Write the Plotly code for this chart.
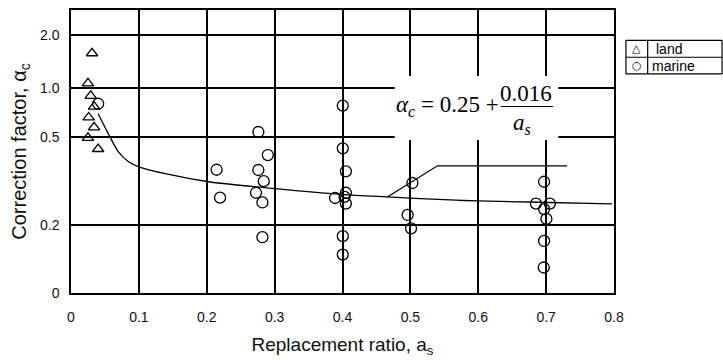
import numpy as np
import plotly.graph_objects as go

# ---------------- data ----------------
land_as = [0.031, 0.025, 0.029, 0.034, 0.026, 0.034, 0.025, 0.040]
land_alpha = [1.57, 1.06, 0.895, 0.768, 0.66, 0.574, 0.497, 0.442]

marine_as = [0.040,
             0.2145, 0.2196,
             0.276, 0.290, 0.276, 0.284, 0.2725, 0.282, 0.282,
             0.4004, 0.4004, 0.405, 0.405, 0.403, 0.389, 0.405, 0.4004, 0.4004,
             0.503, 0.496, 0.501,
             0.697, 0.685, 0.7055, 0.697, 0.7004, 0.697, 0.6965]
marine_alpha = [0.80,
                0.356, 0.266,
                0.538, 0.415, 0.355, 0.316, 0.280, 0.253, 0.164,
                0.779, 0.445, 0.350, 0.280, 0.268, 0.265, 0.250, 0.167, 0.113,
                0.310, 0.222, 0.190,
                0.314, 0.250, 0.250, 0.236, 0.213, 0.153, 0.075]

fit_as = [0.040, 0.0574, 0.0696, 0.0843, 0.099, 0.146, 0.2025, 0.301, 0.3985,
          0.466, 0.567, 0.600, 0.779, 0.797]
fit_alpha = [0.695, 0.502, 0.430, 0.388, 0.368, 0.338, 0.314, 0.292, 0.275,
             0.268, 0.259, 0.257, 0.250, 0.249]

leader_as = [0.466, 0.540, 0.731]
leader_alpha = [0.268, 0.371, 0.371]

x_ticks = [0, 0.1, 0.2, 0.3, 0.4, 0.5, 0.6, 0.7, 0.8]
y_tick_vals = [0, 0.2, 0.5, 1.0, 2.0]
y_tick_text = ["0", "0.2", "0.5", "1.0", "2.0"]

# ---------------- axis scale of the original (non-uniform) ----------------
Y_SCALE_VAL = [0.2, 0.5, 1.0, 2.0, 2.76]
Y_SCALE_POS = [69.0, 158.0, 208.0, 262.0, 287.0]


def ypos(a):
    a = np.asarray(a, dtype=float)
    lo = a < 0.2
    out = np.interp(np.log10(np.maximum(a, 1e-9)), np.log10(Y_SCALE_VAL), Y_SCALE_POS)
    out = np.where(lo, a / 0.2 * Y_SCALE_POS[0], out)
    return out


BLACK = "#000000"
SANS = "Liberation Sans, Arial, sans-serif"
SERIF = "Liberation Serif, Times New Roman, serif"

fig = go.Figure()

fig.add_trace(go.Scatter(x=fit_as, y=ypos(fit_alpha), mode="lines",
                         line=dict(color=BLACK, width=1.3, shape="spline", smoothing=0.8),
                         hoverinfo="skip", showlegend=False))
fig.add_trace(go.Scatter(x=leader_as, y=ypos(leader_alpha), mode="lines",
                         line=dict(color=BLACK, width=1.3),
                         hoverinfo="skip", showlegend=False))
fig.add_trace(go.Scatter(x=land_as, y=ypos(land_alpha), mode="markers", name="land",
                         marker=dict(symbol="triangle-up-open", size=10,
                                     color=BLACK, line=dict(width=1.3, color=BLACK)),
                         showlegend=False))
fig.add_trace(go.Scatter(x=marine_as, y=ypos(marine_alpha), mode="markers", name="marine",
                         marker=dict(symbol="circle-open", size=11,
                                     color=BLACK, line=dict(width=1.3, color=BLACK)),
                         showlegend=False))

# white box behind the equation (interrupts the grid as in the original)
fig.add_shape(type="rect", xref="x", yref="y", layer="above",
              x0=0.477, x1=0.718, y0=float(ypos(0.485)), y1=float(ypos(1.167)),
              fillcolor="white", line=dict(width=0))

eq_font = dict(family=SERIF, size=23, color=BLACK)
fig.add_annotation(x=0.634, y=float(ypos(0.78)), xref="x", yref="y",
                   text="<i>α<sub>c</sub></i> = 0.25 +", showarrow=False,
                   font=eq_font, xanchor="right", yanchor="middle")
fig.add_annotation(x=0.671, y=float(ypos(0.93)), xref="x", yref="y",
                   text="0.016", showarrow=False, font=eq_font,
                   xanchor="center", yanchor="middle")
fig.add_annotation(x=0.664, y=float(ypos(0.60)), xref="x", yref="y",
                   text="<i>a<sub>s</sub></i>", showarrow=False, font=eq_font,
                   xanchor="center", yanchor="middle")
fig.add_shape(type="line", xref="x", yref="y", layer="above",
              x0=0.633, x1=0.710, y0=float(ypos(0.77)), y1=float(ypos(0.77)),
              line=dict(color=BLACK, width=1))

# table-style legend
L0, L1, LD = 1.022, 1.199, 1.062
T0, TM, T1 = 0.774, 0.833, 0.893
for y in (T0, TM, T1):
    fig.add_shape(type="line", xref="paper", yref="paper", x0=L0, x1=L1, y0=y, y1=y,
                  line=dict(color=BLACK, width=1.2))
for x in (L0, LD, L1):
    fig.add_shape(type="line", xref="paper", yref="paper", x0=x, x1=x, y0=T0, y1=T1,
                  line=dict(color=BLACK, width=1.2))
leg_font = dict(family=SANS, size=14, color=BLACK)
sym_font = dict(family="DejaVu Sans", size=11, color=BLACK)
fig.add_annotation(x=(L0 + LD) / 2, y=(TM + T1) / 2, xref="paper", yref="paper",
                   xanchor="center", yanchor="middle",
                   text="△", showarrow=False, font=sym_font)
fig.add_annotation(x=(L0 + LD) / 2, y=(T0 + TM) / 2, xref="paper", yref="paper",
                   xanchor="center", yanchor="middle",
                   text="○", showarrow=False, font=sym_font)
fig.add_annotation(x=LD + 0.012, y=(TM + T1) / 2, xref="paper", yref="paper",
                   xanchor="left", yanchor="middle",
                   text="land", showarrow=False, font=leg_font)
fig.add_annotation(x=LD + 0.004, y=(T0 + TM) / 2, xref="paper", yref="paper",
                   xanchor="left", yanchor="middle",
                   text="marine", showarrow=False, font=leg_font)

fig.update_xaxes(range=[0, 0.8], tickvals=x_ticks, ticktext=[("%g" % v) for v in x_ticks],
                 showgrid=True, gridcolor=BLACK, gridwidth=1.5, zeroline=False,
                 showline=True, linecolor=BLACK, linewidth=1.5, mirror=True,
                 ticks="", ticklabelstandoff=10,
                 tickfont=dict(family=SANS, size=14, color="#111"),
                 title=dict(text="Replacement ratio, a<sub>s</sub>", standoff=14,
                            font=dict(family=SANS, size=19, color="#111")))
fig.update_yaxes(range=[0, 287], tickvals=[float(v) for v in ypos(y_tick_vals)],
                 ticktext=y_tick_text,
                 showgrid=True, gridcolor=BLACK, gridwidth=1.5, zeroline=False,
                 showline=True, linecolor=BLACK, linewidth=1.5, mirror=True,
                 ticks="", ticklabelstandoff=7,
                 tickfont=dict(family=SANS, size=14, color="#111"),
                 title=dict(text="Correction factor, α<sub>c</sub>", standoff=8,
                            font=dict(family=SANS, size=20, color="#111")))

fig.update_layout(width=723, height=360, margin=dict(l=71, r=109, t=8, b=65),
                  paper_bgcolor="white", plot_bgcolor="white", showlegend=False)

fig.write_html("out.html")
